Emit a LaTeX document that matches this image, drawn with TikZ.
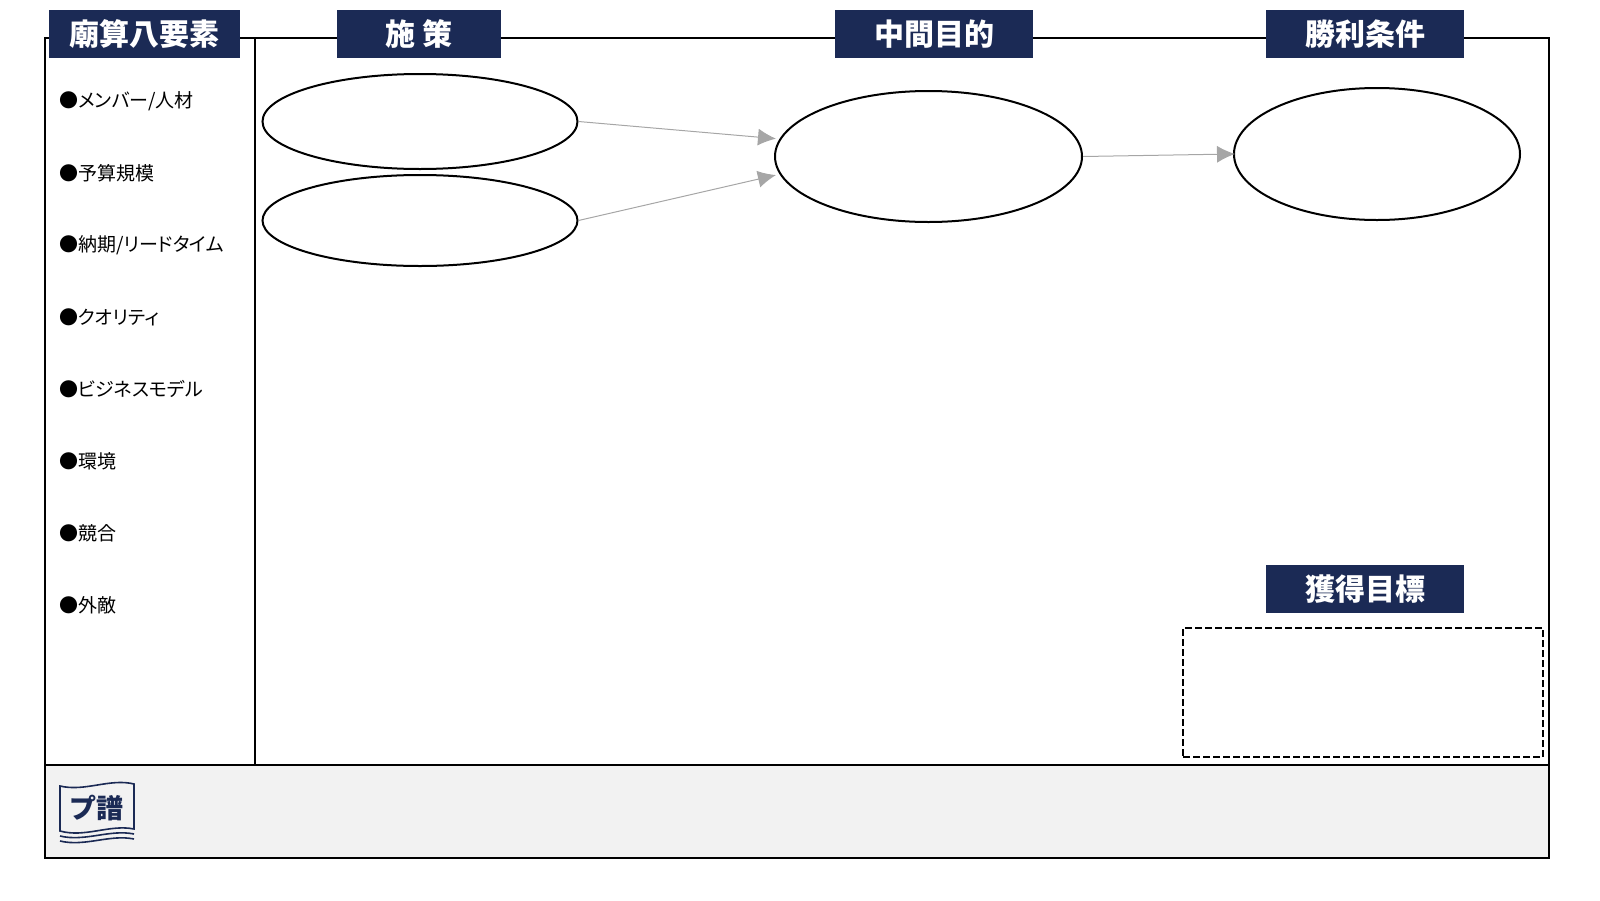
\documentclass[tikz,border=0pt]{standalone}
\usepackage{fontspec}
\setmainfont{Noto Sans CJK JP}[RawFeature=+palt]
\newfontfamily\cjkfull{Noto Sans CJK JP}
\usetikzlibrary{shapes.geometric}
\usetikzlibrary{arrows.meta}
\definecolor{navy}{HTML}{1B2A55}
\definecolor{band}{HTML}{F2F2F2}
\definecolor{arrowgray}{HTML}{A6A6A6}
\tikzset{
    head/.style={fill=navy,text=white,font=\cjkfull\fontsize{30}{32}\selectfont\bfseries,inner sep=0pt,minimum height=48pt},
    item/.style={anchor=west,inner sep=0pt,font=\fontsize{19}{24}\selectfont},
    oval/.style={draw,ellipse,line width=2pt,inner sep=0pt},
    link/.style={draw=arrowgray,line width=1pt,shorten >=-2pt,-{Latex[length=18pt,width=17pt]}}
}
\begin{document}
\begin{tikzpicture}[x=1pt,y=-1pt]
        \useasboundingbox (0,0) rectangle (1600,900);
        \fill[band] (45,765) rectangle (1549,858);
        \draw[line width=2pt] (45,38) rectangle (1549,858);
        \draw[line width=2pt] (45,765) -- (1549,765);
        \draw[line width=2pt] (255,38) -- (255,765);
        \node[head,minimum width=191pt] (hElements) at (144.5,34) {廟算八要素};
        \node[head,minimum width=164pt] (hMeasures) at (419,34) {施 策};
        \node[head,minimum width=198pt] (hMiddle) at (934,34) {中間目的};
        \node[head,minimum width=198pt] (hWin) at (1365,34) {勝利条件};
        \node[head,minimum width=198pt] (hTarget) at (1365,589) {獲得目標};
        \node[item] (item1) at (59,101.5) {●メンバー/人材};
        \node[item] (item2) at (59,173.5) {●予算規模};
        \node[item] (item3) at (59,245.5) {●納期/リードタイム};
        \node[item] (item4) at (59,317.5) {●クオリティ};
        \node[item] (item5) at (59,389.5) {●ビジネスモデル};
        \node[item] (item6) at (59,461.5) {●環境};
        \node[item] (item7) at (59,533.5) {●競合};
        \node[item] (item8) at (59,605.5) {●外敵};
        \node[oval,minimum width=315pt,minimum height=95pt] (measureA) at (420,121.5) {};
        \node[oval,minimum width=315pt,minimum height=91pt] (measureB) at (420,220.5) {};
        \node[oval,minimum width=307pt,minimum height=131pt] (middle) at (928.5,156.5) {};
        \node[oval,minimum width=286pt,minimum height=132pt] (win) at (1377,154) {};
        \draw[link] (measureA.east) -- ([yshift=18pt]middle.west);
        \draw[link] (measureB.east) -- ([yshift=-19pt]middle.west);
        \draw[link] (middle.east) -- (win.west);
        \node[draw,dash pattern=on 7pt off 3pt,line width=2.8pt,minimum width=360pt,minimum height=129pt,inner sep=0pt] (targetBox) at (1363,692.5) {};
        % logo
        \draw[navy,line width=1.6pt] (60,786) .. controls (85,792) and (110,778) .. (134,784) -- (134,829) .. controls (110,824) and (85,838) .. (60,831) -- cycle;
        \draw[navy,line width=1.6pt] (60,836) .. controls (85,842) and (110,829) .. (134,834);
        \draw[navy,line width=1.6pt] (60,841) .. controls (85,847) and (110,834) .. (134,839);
        \node[text=navy,inner sep=0pt,font=\cjkfull\fontsize{27}{30}\selectfont\bfseries] (logoText) at (96,808) {プ譜};
    \end{tikzpicture}
\end{document}
